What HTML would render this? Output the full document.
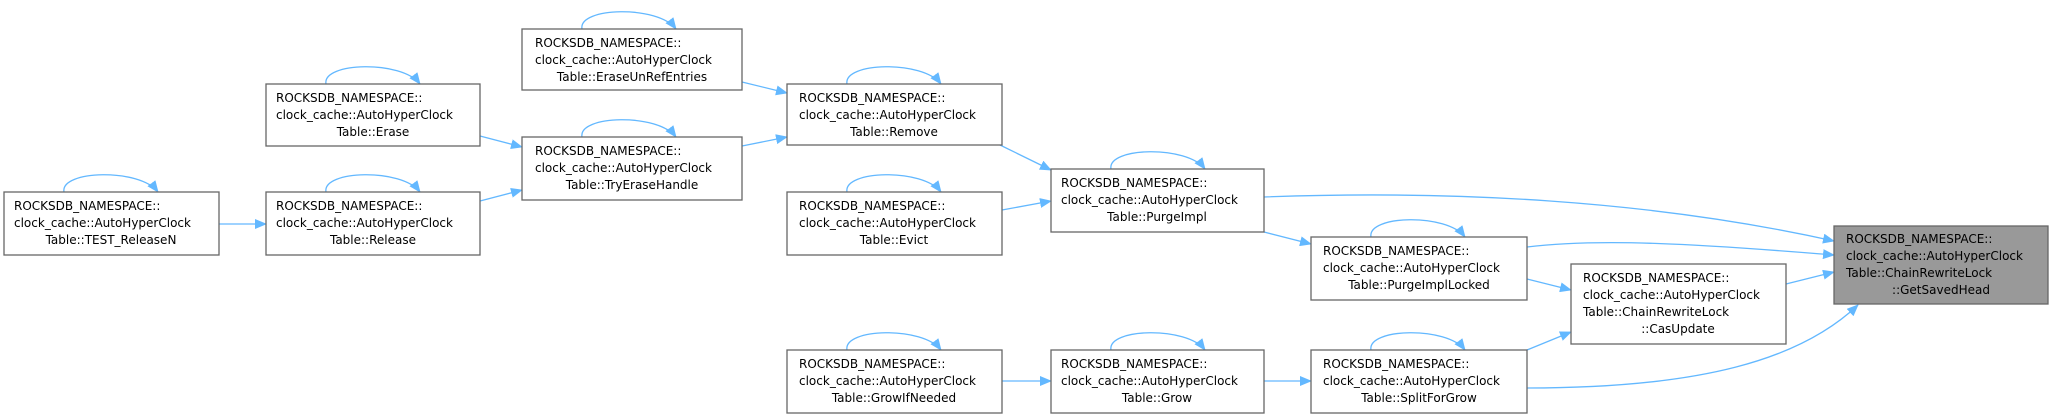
<!DOCTYPE html>
<html><head><meta charset="utf-8"><style>
html,body{margin:0;padding:0;background:#fff;overflow:hidden;}
svg{display:block;}
text{font-family:"DejaVu Sans","Liberation Sans",sans-serif;font-size:12px;fill:#000;}
</style></head><body>
<svg width="2053" height="415" viewBox="0 0 2053 415" xmlns="http://www.w3.org/2000/svg">
<defs>
<marker id="a" markerWidth="12" markerHeight="10" refX="11" refY="5" orient="auto" markerUnits="userSpaceOnUse">
<path d="M0,0 L12,5 L0,10 z" fill="#63b8ff"/>
</marker>
</defs>
<g fill="none" stroke="#63b8ff" stroke-width="1.3" marker-end="url(#a)">
<path d="M219,224 L266,224"/>
<path d="M480,136 L522,147"/>
<path d="M480,201 L522,190"/>
<path d="M742,82 L787,93"/>
<path d="M742,146 L787,137"/>
<path d="M1000,145 L1051,170"/>
<path d="M1002,210 L1051,201"/>
<path d="M1264,197 C1450,190 1650,200 1834,241"/>
<path d="M1264,232 L1311,244"/>
<path d="M1527,247 C1600,238 1700,244 1834,255"/>
<path d="M1527,279 L1571,290"/>
<path d="M1786,284 L1834,272"/>
<path d="M1527,350 L1571,332"/>
<path d="M1527,388 C1700,388 1800,360 1858,305"/>
<path d="M1002,381 L1051,381"/>
<path d="M1264,381 L1311,381"/>
<!-- self loops -->
<path d="M64,192 C60,170 140,168 158,192"/>
<path d="M326,84 C322,62 402,60 420,84"/>
<path d="M326,192 C322,170 402,168 420,192"/>
<path d="M582,29 C578,7 658,5 676,29"/>
<path d="M582,137 C578,115 658,113 676,137"/>
<path d="M847,84 C843,62 923,60 941,84"/>
<path d="M847,192 C843,170 923,168 941,192"/>
<path d="M847,350 C843,328 923,326 941,350"/>
<path d="M1111,169 C1107,147 1187,145 1205,169"/>
<path d="M1111,350 C1107,328 1187,326 1205,350"/>
<path d="M1371,237 C1367,215 1447,213 1465,237"/>
<path d="M1371,350 C1367,328 1447,326 1465,350"/>
</g>
<g stroke="#666" stroke-width="1.3" fill="#fff">
<rect x="4" y="192" width="215" height="63"/>
<rect x="266" y="84" width="214" height="62"/>
<rect x="266" y="192" width="214" height="63"/>
<rect x="522" y="29" width="220" height="61"/>
<rect x="522" y="137" width="220" height="63"/>
<rect x="787" y="84" width="215" height="61"/>
<rect x="787" y="192" width="215" height="63"/>
<rect x="787" y="350" width="215" height="63"/>
<rect x="1051" y="169" width="213" height="63"/>
<rect x="1051" y="350" width="213" height="63"/>
<rect x="1311" y="237" width="216" height="63"/>
<rect x="1311" y="350" width="216" height="63"/>
<rect x="1571" y="264" width="215" height="80"/>
<rect x="1834" y="226" width="214" height="78" fill="#999"/>
</g>
<g>
<text x="14" y="210">ROCKSDB_NAMESPACE::</text><text x="14" y="227">clock_cache::AutoHyperClock</text><text x="111" y="244" text-anchor="middle">Table::TEST_ReleaseN</text>
<text x="276" y="102">ROCKSDB_NAMESPACE::</text><text x="276" y="119">clock_cache::AutoHyperClock</text><text x="373" y="136" text-anchor="middle">Table::Erase</text>
<text x="276" y="210">ROCKSDB_NAMESPACE::</text><text x="276" y="227">clock_cache::AutoHyperClock</text><text x="373" y="244" text-anchor="middle">Table::Release</text>
<text x="535" y="47">ROCKSDB_NAMESPACE::</text><text x="535" y="64">clock_cache::AutoHyperClock</text><text x="632" y="81" text-anchor="middle">Table::EraseUnRefEntries</text>
<text x="535" y="155">ROCKSDB_NAMESPACE::</text><text x="535" y="172">clock_cache::AutoHyperClock</text><text x="632" y="189" text-anchor="middle">Table::TryEraseHandle</text>
<text x="799" y="102">ROCKSDB_NAMESPACE::</text><text x="799" y="119">clock_cache::AutoHyperClock</text><text x="894" y="136" text-anchor="middle">Table::Remove</text>
<text x="799" y="210">ROCKSDB_NAMESPACE::</text><text x="799" y="227">clock_cache::AutoHyperClock</text><text x="894" y="244" text-anchor="middle">Table::Evict</text>
<text x="799" y="368">ROCKSDB_NAMESPACE::</text><text x="799" y="385">clock_cache::AutoHyperClock</text><text x="894" y="402" text-anchor="middle">Table::GrowIfNeeded</text>
<text x="1061" y="187">ROCKSDB_NAMESPACE::</text><text x="1061" y="204">clock_cache::AutoHyperClock</text><text x="1157" y="221" text-anchor="middle">Table::PurgeImpl</text>
<text x="1061" y="368">ROCKSDB_NAMESPACE::</text><text x="1061" y="385">clock_cache::AutoHyperClock</text><text x="1157" y="402" text-anchor="middle">Table::Grow</text>
<text x="1323" y="255">ROCKSDB_NAMESPACE::</text><text x="1323" y="272">clock_cache::AutoHyperClock</text><text x="1419" y="289" text-anchor="middle">Table::PurgeImplLocked</text>
<text x="1323" y="368">ROCKSDB_NAMESPACE::</text><text x="1323" y="385">clock_cache::AutoHyperClock</text><text x="1419" y="402" text-anchor="middle">Table::SplitForGrow</text>
<text x="1583" y="282">ROCKSDB_NAMESPACE::</text><text x="1583" y="299">clock_cache::AutoHyperClock</text><text x="1583" y="316">Table::ChainRewriteLock</text><text x="1678" y="333" text-anchor="middle">::CasUpdate</text>
<text x="1846" y="243">ROCKSDB_NAMESPACE::</text><text x="1846" y="260">clock_cache::AutoHyperClock</text><text x="1846" y="277">Table::ChainRewriteLock</text><text x="1941" y="294" text-anchor="middle">::GetSavedHead</text>
</g>
</svg>
</body></html>
